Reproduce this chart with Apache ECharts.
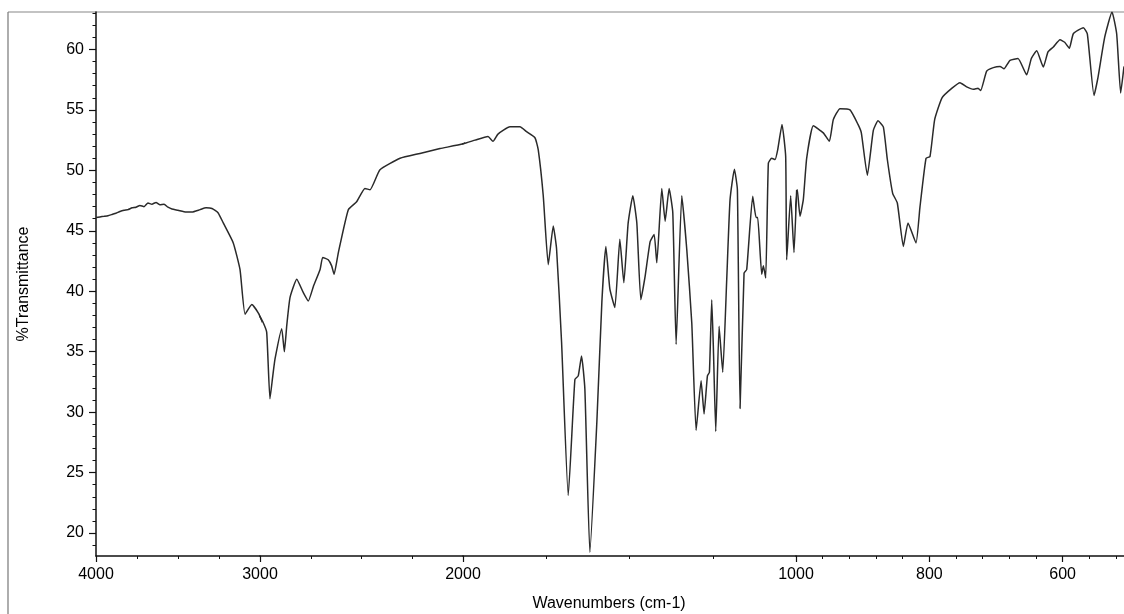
<!DOCTYPE html>
<html><head><meta charset="utf-8">
<script src="https://cdn.jsdelivr.net/npm/echarts@6/dist/echarts.min.js"></script>
<style>html,body{margin:0;padding:0;background:#fff}#c{width:1124px;height:614px}</style>
</head><body><div id="c"></div>
<script>
// ---- data (wavenumber cm-1, %T) ----
const wavenumbers = [4000,3976,3951,3927,3902,3878,3854,3829,3805,3780,3756,3732,3707,3683,3659,3634,3610,3585,3561,3537,3500,3451,3415,3366,3329,3293,3256,3224,3163,3122,3091,3050,3010,
2984,2967,2951,2937,2926,2893,2880,2868,2852,2819,2787,2762,2737,2704,2691,2664,2647,2635,2614,2565,2524,2483,2458,2409,2310,2212,2113,2000,
1964,1925,1910,1895,1859,1829,1809,1784,1774,1759,1744,1729,1719,1704,1684,1664,1654,1644,1634,1619,1598,1583,1571,1559,1544,1529,1517,1504,1490,1478,1466,1453,1438,1426,1418,1403,1393,1381,1370,1360,1343,1328,1313,1300,1285,1276,1266,1260,1253,1248,1241,1231,1220,1208,1198,1185,1176,1168,1156,1148,1130,1120,1115,1103,1098,1091,1083,1073,1063,1055,1042,1031,1028,1016,1006,
998,994,989,984,974,959,950,944,934,919,907,902,893,884,877,869,863,855,848,839,832,820,814,805,799,792,781,766,754,744,734,727,723,714,704,694,688,679,667,654,647,639,629,622,614,604,597,590,584,569,563,553,547,537,526,519,513,508];
const transmittance = [46.1,46.15,46.2,46.25,46.35,46.45,46.6,46.7,46.75,46.9,46.95,47.1,47.0,47.3,47.2,47.35,47.15,47.2,46.95,46.8,46.7,46.55,46.55,46.75,46.9,46.85,46.5,45.65,44.0,41.8,38.1,38.9,38.2,
37.4,36.6,31.1,33.0,34.4,36.9,35.0,37.2,39.5,41.0,39.9,39.2,40.4,41.8,42.8,42.6,42.1,41.4,43.2,46.75,47.4,48.5,48.4,50.05,51.0,51.4,51.8,52.2,
52.5,52.8,52.4,53.0,53.6,53.6,53.2,52.7,51.7,47.9,42.2,45.4,43.5,35.8,23.1,32.7,33.0,34.65,31.9,18.4,29.2,39.1,43.7,40.2,38.65,44.3,40.7,45.65,47.9,45.65,39.3,41.25,44.1,44.7,42.35,48.5,45.8,48.5,46.5,35.6,47.9,43.45,37.4,28.5,32.6,29.85,33.0,33.3,39.3,35.2,28.4,37.1,33.3,41.0,47.6,50.1,48.4,30.3,41.5,41.8,47.85,46.1,46.1,41.4,42.1,41.1,50.6,51.0,50.9,51.7,53.8,51.15,42.6,47.9,43.2,
48.4,46.2,47.6,51.0,53.7,53.1,52.4,54.2,55.1,55.0,53.8,53.1,49.6,53.3,54.1,53.6,50.9,48.1,47.3,43.7,45.65,44.0,47.0,51.0,51.15,54.2,56.0,56.8,57.25,56.9,56.7,56.8,56.6,58.2,58.5,58.6,58.4,59.1,59.25,57.9,59.25,59.9,58.55,59.8,60.2,60.8,60.6,60.1,61.3,61.8,61.3,56.2,57.7,61.0,63.1,61.3,56.4,58.6];

// x axis is drawn in segments, each with its own linear scale
const segmentRanges = [[4000,3000],[3000,2000],[2000,1000],[1000,508]];
const majorTickValues = [[4000,3000],[2000],[1000],[800,600]];
const tickLabelValues = [[4000,3000],[2000],[1000],[800,600]];
const minorTickValues = [[3750,3500,3250],[2750,2500,2250],[1750,1500,1250],[960,920,880,840,760,720,680,640,560,520]];
const yLabelValues = [20,25,30,35,40,45,50,55,60];
const yMinorValues = [19,21,22,23,24,26,27,28,29,31,32,33,34,36,37,38,39,41,42,43,44,46,47,48,49,51,52,53,54,56,57,58,59,61,62,63];
const yRange = [18.1, 63.1];

// ---- layout ----
const segPx = [96, 260, 463, 796, 1124];
const TOP = 12, BOTTOM_Y = 556;
const FONT = "'Liberation Sans', Arial, sans-serif";
const INK = '#111';

function segData(hi, lo) {
  let first = -1, last = -1;
  for (let i = 0; i < wavenumbers.length; i++) {
    if (wavenumbers[i] <= hi && wavenumbers[i] >= lo) { if (first < 0) first = i; last = i; }
  }
  const a = Math.max(0, first - 1), b = Math.min(wavenumbers.length - 1, last + 1);
  const out = [];
  for (let i = a; i <= b; i++) out.push([wavenumbers[i], transmittance[i]]);
  return out;
}

const grid = [], xAxis = [], yAxis = [], series = [];
segmentRanges.forEach((r, i) => {
  grid.push({ left: segPx[i], width: segPx[i + 1] - segPx[i], top: TOP, height: BOTTOM_Y - TOP, containLabel: false });
  xAxis.push({
    type: 'value', gridIndex: i, inverse: true, min: r[1], max: r[0], position: 'bottom',
    axisLine: { show: true, onZero: false, lineStyle: { color: INK, width: 1.5 } },
    axisTick: { show: true, length: 6, customValues: majorTickValues[i], lineStyle: { color: INK, width: 1.2 } },
    axisLabel: { show: true, customValues: tickLabelValues[i], margin: 11, fontSize: 16, color: '#000', fontFamily: FONT, formatter: v => String(v) },
    splitLine: { show: false }
  });
  xAxis.push({
    type: 'value', gridIndex: i, inverse: true, min: r[1], max: r[0], position: 'bottom',
    axisLine: { show: false, onZero: false },
    axisTick: { show: true, length: 3, customValues: minorTickValues[i], lineStyle: { color: INK, width: 1 } },
    axisLabel: { show: false }, splitLine: { show: false }
  });
  yAxis.push({
    type: 'value', gridIndex: i, min: yRange[0], max: yRange[1], position: 'left',
    show: i === 0,
    axisLine: { show: true, onZero: false, lineStyle: { color: INK, width: 1.5 } },
    axisTick: { show: true, length: 7, customValues: yLabelValues, lineStyle: { color: INK, width: 1.2 } },
    axisLabel: { show: true, customValues: yLabelValues, margin: 12, fontSize: 16, color: '#000', fontFamily: FONT, formatter: v => String(v) },
    splitLine: { show: false }
  });
  series.push({
    type: 'line', xAxisIndex: 2 * i, yAxisIndex: i, data: segData(r[0], r[1]),
    showSymbol: false, smooth: 0.15, clip: true, silent: true,
    lineStyle: { color: '#2a2a2a', width: 1.5 }
  });
});
yAxis.push({
  type: 'value', gridIndex: 0, min: yRange[0], max: yRange[1], position: 'left',
  axisLine: { show: false, onZero: false },
  axisTick: { show: true, length: 3.5, customValues: yMinorValues, lineStyle: { color: INK, width: 1 } },
  axisLabel: { show: false }, splitLine: { show: false }
});

const chart = echarts.init(document.getElementById('c'), null, { renderer: 'canvas' });
chart.setOption({
  backgroundColor: '#fff',
  animation: false,
  grid, xAxis, yAxis, series,
  graphic: [
    { type: 'line', shape: { x1: 8, y1: TOP, x2: 1124, y2: TOP }, style: { stroke: '#888', lineWidth: 1.2 }, silent: true },
    { type: 'line', shape: { x1: 8, y1: TOP, x2: 8, y2: 614 }, style: { stroke: '#777', lineWidth: 1.2 }, silent: true },
    { type: 'text', x: 24, y: 284, rotation: Math.PI / 2, style: { text: '%Transmittance', fontSize: 16, fontFamily: FONT, fill: '#000', align: 'center', verticalAlign: 'middle' }, silent: true },
    { type: 'text', x: 609, y: 604, style: { text: 'Wavenumbers (cm-1)', fontSize: 16, fontFamily: FONT, fill: '#000', align: 'center', verticalAlign: 'middle' }, silent: true }
  ]
});
</script>
</body></html>
